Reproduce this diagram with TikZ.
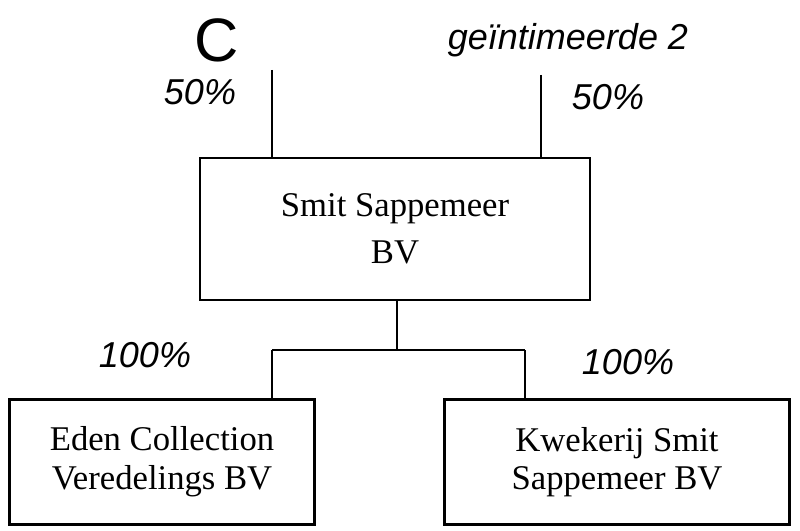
\documentclass[tikz,border=0pt]{standalone}
\usepackage{fontspec}
\setmainfont{Liberation Serif}
\newfontfamily\handfont{Liberation Sans}
\usetikzlibrary{calc}
\tikzset{firm/.style = {draw, line width=1.6pt, align=center, font=\fontsize{26}{29}\selectfont, inner sep=0pt},
         hand/.style = {font=\handfont\itshape\fontsize{27}{29}\selectfont},
         link/.style = {line width=1.6pt}}
\begin{document}
\begin{tikzpicture}[x=0.75pt,y=-0.75pt]
\useasboundingbox (0,0) rectangle (800,531);
\node (smit) [firm,font=\fontsize{26}{35}\selectfont,minimum width=292.5pt,minimum height=106.5pt] at (395,229) {Smit Sappemeer\\BV};
\node (eden) [firm,minimum width=228.75pt,minimum height=93.75pt] at (162,462) {Eden Collection\\Veredelings BV};
\node (kwek) [firm,minimum width=258.75pt,minimum height=93.75pt] at (617,462) {Kwekerij Smit\\Sappemeer BV};

% Draw connections between nodes
\coordinate (topc) at (272,70);
\coordinate (topg) at (541,75);
\draw [link] (topc) -- (topc |- smit.north);
\draw [link] (topg) -- (topg |- smit.north);
\coordinate (split) at (397,350);
\coordinate (splitl) at (272,350);
\coordinate (splitr) at (525,350);
\draw [link] (smit.south -| split) -- (split);
\draw [link] (splitl) -- (splitr);
\draw [link] (splitl) -- (splitl |- eden.north);
\draw [link] (splitr) -- (splitr |- kwek.north);

% handwritten notes
\node (hc) [hand,font=\handfont\fontsize{46}{48}\selectfont] at (217,40) {C};
\node (hg) [hand] at (568,40) {geïntimeerde 2};
\node (pc) [hand] at (200,92) {50\%};
\node (pg) [hand] at (608,97) {50\%};
\node (pe) [hand] at (145,355) {100\%};
\node (pk) [hand] at (628,362) {100\%};
\end{tikzpicture}
\end{document}
